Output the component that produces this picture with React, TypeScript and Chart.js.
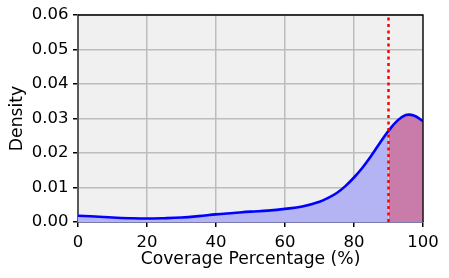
import React, { useEffect, useRef } from "react";
import { Chart, registerables } from "chart.js";

Chart.register(...registerables);

const coverage = [0, 5, 10, 15, 20, 25, 30, 35, 40, 45, 50, 55, 60, 65, 70, 72.5, 75, 77.5, 80, 82.5, 85, 87.5, 90, 92.5, 95, 97.5, 100];
const density = [0.0018, 0.0016, 0.0013, 0.0011, 0.001, 0.0011, 0.0013, 0.0017, 0.0022, 0.0026, 0.003, 0.0033, 0.0038, 0.0045, 0.0059, 0.007, 0.0084, 0.0104, 0.0129, 0.0158, 0.0192, 0.0229, 0.0264, 0.0293, 0.031, 0.0308, 0.0292];
const threshold = 90;
const xTicks = [0, 20, 40, 60, 80, 100];
const yTicks = [0, 0.01, 0.02, 0.03, 0.04, 0.05, 0.06];

const BG = "#f0f0f0";
const BLUE_FILL = "#b4b4f4";
const RED_FILL = "#c97ca9";

const bgPlugin = {
  id: "bgPlugin",
  beforeDraw(chart: any) {
    const { ctx, chartArea: a } = chart;
    ctx.save();
    ctx.fillStyle = BG;
    ctx.fillRect(a.left, a.top, a.right - a.left, a.bottom - a.top);
    ctx.restore();
  },
  afterDraw(chart: any) {
    const { ctx, chartArea: a } = chart;
    ctx.save();
    ctx.strokeStyle = "#000000";
    ctx.lineWidth = 1.3;
    ctx.beginPath();
    ctx.moveTo(a.left, a.top);
    ctx.lineTo(a.right, a.top);
    ctx.lineTo(a.right, a.bottom);
    ctx.stroke();
    ctx.restore();
  },
};

export default function App() {
  const ref = useRef<HTMLCanvasElement>(null);
  useEffect(() => {
    if (!ref.current) return;
    const curve = coverage.map((x, i) => ({ x, y: density[i] }));
    const chart = new Chart(ref.current, {
      type: "line",
      data: {
        datasets: [
          {
            data: [
              { x: threshold, y: yTicks[0] },
              { x: threshold, y: yTicks[yTicks.length - 1] },
            ],
            borderColor: "#ff0000",
            borderWidth: 2.5,
            borderDash: [3, 3.5],
            pointRadius: 0,
            fill: false,
            tension: 0,
          },
          {
            data: curve,
            borderColor: "#0000ff",
            borderWidth: 2.6,
            pointRadius: 0,
            tension: 0.4,
            fill: "origin",
            backgroundColor: BLUE_FILL,
            segment: {
              backgroundColor: (c: any) => (c.p0.parsed.x >= threshold ? RED_FILL : BLUE_FILL),
            },
          } as any,
        ],
      },
      options: {
        responsive: false,
        animation: false,
        layout: { padding: { top: 15, right: 26, left: 0, bottom: 0 } },
        plugins: { legend: { display: false }, tooltip: { enabled: false } },
        scales: {
          x: {
            type: "linear",
            min: 0,
            max: 100,
            afterFit: (s: any) => {
              s.height = 56;
            },
            afterBuildTicks: (s: any) => {
              s.ticks = xTicks.map((v) => ({ value: v }));
            },
            ticks: {
              color: "#000",
              font: { family: "DejaVu Sans", size: 16.5 },
              padding: 6,
              maxRotation: 0,
              callback: (v: any) => String(v),
            },
            grid: { color: "#bdbdbd", lineWidth: 1.5, tickColor: "#000", tickLength: 5 },
            border: { color: "#1a1a7a", width: 1.5 },
            title: {
              display: true,
              text: "Coverage Percentage (%)",
              color: "#000",
              font: { family: "DejaVu Sans", size: 17.2 },
              padding: { top: 0, bottom: 7.8 },
            },
          },
          y: {
            type: "linear",
            min: 0,
            max: 0.06,
            afterFit: (s: any) => {
              s.width = 78;
            },
            afterBuildTicks: (s: any) => {
              s.ticks = yTicks.map((v) => ({ value: v }));
            },
            ticks: {
              color: "#000",
              font: { family: "DejaVu Sans", size: 16.5 },
              padding: 4.5,
              callback: (v: any) => Number(v).toFixed(2),
            },
            grid: { color: "#bdbdbd", lineWidth: 1.5, tickColor: "#000", tickLength: 5 },
            border: { color: "#5a5a5a", width: 2 },
            title: {
              display: true,
              text: "Density",
              color: "#000",
              font: { family: "DejaVu Sans", size: 17.2 },
              padding: { top: 7.3, bottom: 0 },
            },
          },
        },
      },
      plugins: [bgPlugin],
    });
    return () => chart.destroy();
  }, []);
  return (
    <div style={{ position: "fixed", left: 0, top: 0, width: 449, height: 278, background: "#fff" }}>
      <canvas ref={ref} width={449} height={278} style={{ display: "block" }} />
    </div>
  );
}
